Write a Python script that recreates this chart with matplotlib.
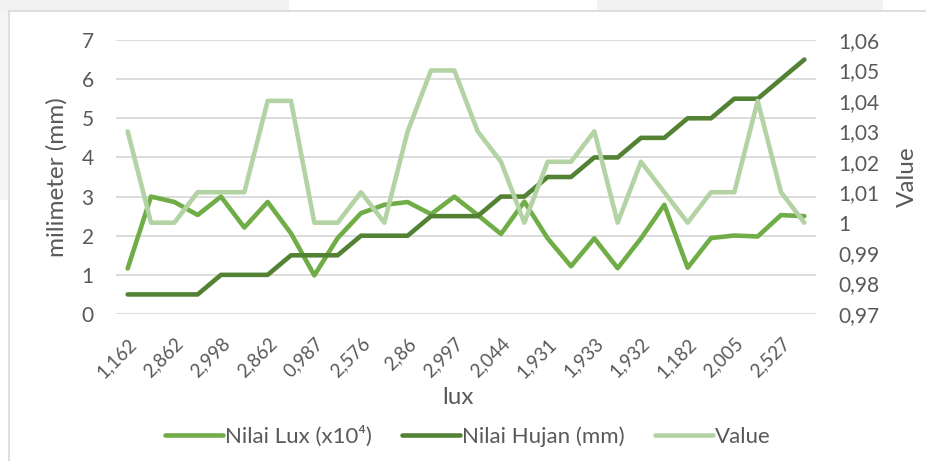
import numpy as np
import matplotlib
matplotlib.use("Agg")
import matplotlib.pyplot as plt
from matplotlib.patches import Rectangle
from matplotlib.lines import Line2D

plt.rcParams['font.family'] = ['Lato', 'DejaVu Sans']

# ============================================================
# Data
# ============================================================

nilai_lux = [1.162, 3.0, 2.862, 2.53, 2.998, 2.21, 2.862, 2.06, 0.987, 1.94,
             2.576, 2.79, 2.86, 2.55, 2.997, 2.53, 2.044, 2.87, 1.931, 1.22,
             1.933, 1.17, 1.932, 2.79, 1.182, 1.94, 2.005, 1.98, 2.527, 2.5]

nilai_hujan = [0.5, 0.5, 0.5, 0.5, 1, 1, 1, 1.5, 1.5, 1.5,
               2, 2, 2, 2.5, 2.5, 2.5, 3, 3, 3.5, 3.5,
               4, 4, 4.5, 4.5, 5, 5, 5.5, 5.5, 6, 6.5]

value = [1.03, 1.00, 1.00, 1.01, 1.01, 1.01, 1.04, 1.04, 1.00, 1.00,
         1.01, 1.00, 1.03, 1.05, 1.05, 1.03, 1.02, 1.00, 1.02, 1.02,
         1.03, 1.00, 1.02, 1.01, 1.00, 1.01, 1.01, 1.04, 1.01, 1.00]

x_labels = ["1,162", "2,862", "2,998", "2,862", "0,987", "2,576", "2,86", "2,997",
            "2,044", "1,931", "1,933", "1,932", "1,182", "2,005", "2,527"]

left_ticks = [0, 1, 2, 3, 4, 5, 6, 7]
right_ticks = [0.97, 0.98, 0.99, 1.00, 1.01, 1.02, 1.03, 1.04, 1.05, 1.06]
right_labels = ["0,97", "0,98", "0,99", "1", "1,01", "1,02", "1,03", "1,04", "1,05", "1,06"]

# ============================================================
# Figure
# ============================================================

W, H = 926, 461
fig = plt.figure(figsize=(W / 100, H / 100), dpi=100)
fig.patch.set_facecolor("white")

# screenshot background bits + chart border
fig.patches.append(Rectangle((0, 1 - 11 / H), 289 / W, 11 / H, transform=fig.transFigure,
                             facecolor="#F2F2F2", edgecolor="none", zorder=0))
fig.patches.append(Rectangle((597 / W, 1 - 11 / H), 286 / W, 11 / H, transform=fig.transFigure,
                             facecolor="#F2F2F2", edgecolor="none", zorder=0))
fig.patches.append(Rectangle((0, 1 - 200 / H), 8 / W, 189 / H, transform=fig.transFigure,
                             facecolor="#F5F5F5", edgecolor="none", zorder=0))
fig.lines.append(Line2D([8.5 / W, 8.5 / W], [0, 1 - 11 / H], transform=fig.transFigure,
                        color="#D9D9D9", lw=1.2))
fig.lines.append(Line2D([8.5 / W, 1], [1 - 11 / H, 1 - 11 / H], transform=fig.transFigure,
                        color="#D9D9D9", lw=1.2))

ax = fig.add_axes([116 / W, (H - 314) / H, 700 / W, 274 / H])
ax2 = ax.twinx()

x = np.arange(len(nilai_lux))
text_col = "#595959"
lw = 3.3

l1, = ax.plot(x, nilai_lux, color="#70AD47", lw=lw, solid_joinstyle="round",
              solid_capstyle="round", label="Nilai Lux (x10⁴)", zorder=3)
l2, = ax.plot(x, nilai_hujan, color="#548235", lw=lw, solid_joinstyle="round",
              solid_capstyle="round", label="Nilai Hujan (mm)", zorder=3)
l3, = ax2.plot(x, value, color="#B4D3A4", lw=lw, solid_joinstyle="round",
               solid_capstyle="round", label="Value", zorder=3)

ax.set_xlim(-0.5, len(x) - 0.5)
ax.set_ylim(0, 7)
ax2.set_ylim(0.97, 1.06)

ax.set_yticks(left_ticks)
ax.set_yticklabels([str(t) for t in left_ticks])
ax2.set_yticks(right_ticks)
ax2.set_yticklabels(right_labels)

ax.set_xticks(x[::2])
ax.set_xticklabels(x_labels, rotation=45, ha="right", rotation_mode="anchor")

ax.grid(axis="y", color="#D9D9D9", lw=1.3)
ax.set_axisbelow(True)
for a in (ax, ax2):
    for s in a.spines.values():
        s.set_visible(False)
    a.tick_params(length=0, labelsize=15, labelcolor=text_col)
ax.tick_params(axis="y", pad=16)
ax.tick_params(axis="x", pad=15, labelsize=13.5)
ax2.tick_params(axis="y", pad=16)

ax.set_ylabel("milimeter (mm)", fontsize=17.5, color=text_col, labelpad=10)
ax2.set_ylabel("Value", fontsize=17.5, color=text_col, labelpad=13)
ax.set_xlabel("lux", fontsize=17.5, color=text_col)
ax.xaxis.set_label_coords(0.489, -0.268)

fig.legend(handles=[l1, l2, l3], loc="center", bbox_to_anchor=(468 / W, 1 - 436 / H),
           ncol=3, frameon=False, fontsize=16, handlelength=2.6, handletextpad=0.1,
           columnspacing=1.35, labelcolor=text_col)

fig.savefig("out.png", dpi=100)
